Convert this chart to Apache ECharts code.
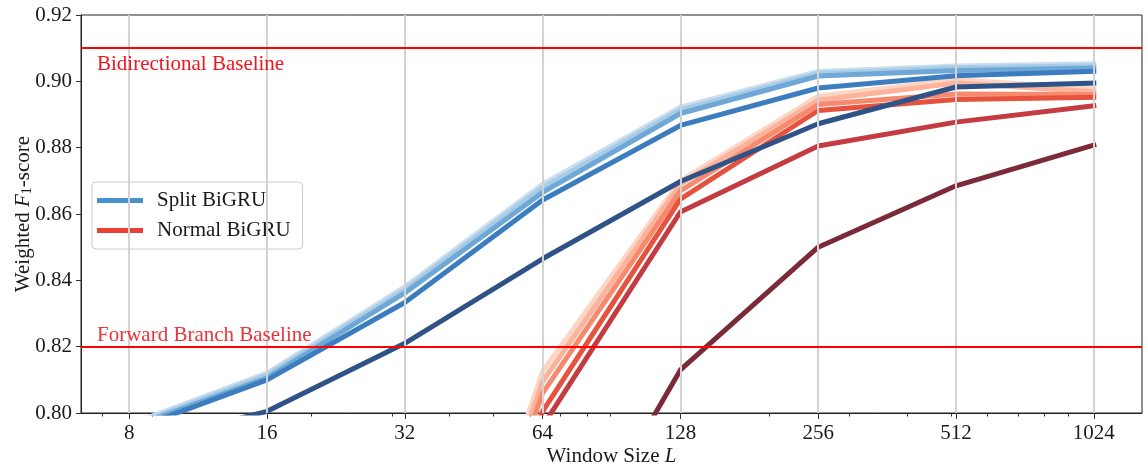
<!DOCTYPE html>
<html><head><meta charset="utf-8">
<script src="https://cdn.jsdelivr.net/npm/echarts@6/dist/echarts.min.js"></script>
<style>html,body{margin:0;padding:0;background:#fff}#c{width:1148px;height:468px}</style>
</head><body><div id="c"></div>
<script>
// ---- data ----
const windowSizes = [8, 16, 32, 64, 128, 256, 512, 1024];
const minorTickSizes = [7, 9, 20, 30, 40, 50, 60, 70, 80, 90, 200, 300, 400, 500, 600, 700, 800, 900];
const yTicks = [0.80, 0.82, 0.84, 0.86, 0.88, 0.90, 0.92];

// Split BiGRU variants (light -> dark)
const split1 = [0.7965, 0.8120, 0.8380, 0.8690, 0.8922, 0.9030, 0.9046, 0.9053];
const split2 = [0.7960, 0.8114, 0.8372, 0.8680, 0.8914, 0.9024, 0.9041, 0.9047];
const split3 = [0.7955, 0.8106, 0.8362, 0.8665, 0.8903, 0.9016, 0.9033, 0.9040];
const split4 = [0.7947, 0.8100, 0.8333, 0.8642, 0.8867, 0.8980, 0.9017, 0.9030];
const split5 = [0.7900, 0.8005, 0.8210, 0.8465, 0.8698, 0.8872, 0.8983, 0.8995];

// Normal BiGRU variants (light -> dark)
const normal1 = [null, null, 0.690, 0.8125, 0.8700, 0.8955, 0.9005, 0.8978];
const normal2 = [null, null, 0.688, 0.8095, 0.8690, 0.8943, 0.8995, 0.8968];
const normal3 = [null, null, 0.686, 0.8060, 0.8670, 0.8930, 0.8962, 0.8960];
const normal4 = [null, null, 0.684, 0.8005, 0.8645, 0.8912, 0.8945, 0.8952];
const normal5 = [null, null, 0.680, 0.7960, 0.8606, 0.8805, 0.8877, 0.8926];
const normal6 = [null, null, 0.660, 0.7410, 0.8130, 0.8500, 0.8685, 0.8808];

const baselineValues = [0.91, 0.82];
const baselineLabels = ['Bidirectional Baseline', 'Forward Branch Baseline'];
const legendNames = ['Split BiGRU', 'Normal BiGRU'];

// ---- styling ----
const FONT = 'Liberation Serif';
const FS = 21;
const TXT = '#1a1a1a';
const splitColors = ['#cadef0', '#a8cbe6', '#6fa8d6', '#3b7dbe', '#2f5387'];
const normalColors = ['#fdd5c4', '#fbb49b', '#f6896e', '#e5533f', '#c43c41', '#7b2a39'];

const lx = v => Math.log2(v);
const xMin = lx(windowSizes[0]) - 0.35;
const xMax = lx(windowSizes[windowSizes.length - 1]) + 0.35;

function lineSeries(name, values, color, z) {
  const data = [];
  windowSizes.forEach((w, i) => { if (values[i] != null) data.push([lx(w), values[i]]); });
  return {
    type: 'line', name: name, data: data, symbol: 'none', clip: true, z: z,
    silent: true, animation: false, emphasis: { disabled: true },
    lineStyle: { color: color, width: 5, join: 'round', cap: 'square' },
    itemStyle: { color: color }
  };
}

const series = [];
// vertical grid lines
series.push({
  type: 'line', name: '_grid', data: [], z: 1, silent: true, animation: false,
  markLine: {
    silent: true, animation: false, symbol: ['none', 'none'],
    label: { show: false },
    lineStyle: { color: '#d3d3d3', width: 2, type: 'solid' },
    emphasis: { disabled: true },
    data: windowSizes.map(w => ({ xAxis: lx(w) }))
  }
});
const normals = [normal1, normal2, normal3, normal4, normal5, normal6];
normals.forEach((v, i) => series.push(lineSeries('Normal ' + (i + 1), v, normalColors[i], 2)));
const splits = [split1, split2, split3, split4, split5];
splits.forEach((v, i) => series.push(lineSeries('Split ' + (i + 1), v, splitColors[i], 3)));
// legend proxies
series.push({ type: 'line', name: legendNames[0], data: [], symbol: 'none', lineStyle: { color: '#4a91c9', width: 5 }, itemStyle: { color: '#4a91c9' } });
series.push({ type: 'line', name: legendNames[1], data: [], symbol: 'none', lineStyle: { color: '#ee4032', width: 5 }, itemStyle: { color: '#ee4032' } });
// baselines
series.push({
  type: 'line', name: '_base', data: [], z: 5, silent: true, animation: false,
  markLine: {
    silent: true, animation: false, symbol: ['none', 'none'],
    lineStyle: { color: '#ff0000', width: 2, type: 'solid' },
    emphasis: { disabled: true },
    data: baselineValues.map((v, i) => ({
      yAxis: v,
      label: {
        show: true, formatter: baselineLabels[i],
        position: i === 0 ? 'insideStartBottom' : 'insideStartTop',
        distance: i === 0 ? [16, 6] : [16, 1],
        color: i === 0 ? '#f0141e' : '#e8343a',
        fontFamily: FONT, fontSize: FS
      }
    }))
  }
});

const chart = echarts.init(document.getElementById('c'), null, { renderer: 'canvas' });
chart.setOption({
  animation: false,
  backgroundColor: '#ffffff',
  grid: { left: 81, right: 6, top: 15, bottom: 55, outerBoundsMode: 'none', containLabel: false,
    show: true, borderColor: '#222', borderWidth: 1, backgroundColor: 'transparent' },
  legend: {
    data: legendNames, left: 92, top: 182, orient: 'vertical',
    icon: 'rect', itemWidth: 46, itemHeight: 5, itemGap: 9,
    padding: [8, 12, 8, 5],
    backgroundColor: 'rgba(255,255,255,0.8)', borderColor: '#cccccc', borderWidth: 1, borderRadius: 4,
    selectedMode: false,
    textStyle: { fontFamily: FONT, fontSize: FS, color: TXT, padding: [0, 0, 0, 9] }
  },
  xAxis: [{
    type: 'value', min: xMin, max: xMax, position: 'bottom',
    name: '{r|Window Size }{i|L}', nameLocation: 'middle', nameGap: 33, nameMoveOverlap: false,
    nameTextStyle: { fontFamily: FONT, fontSize: FS, color: TXT,
      rich: { r: { fontFamily: FONT, fontSize: FS, color: TXT }, i: { fontFamily: FONT, fontSize: FS, fontStyle: 'italic', color: TXT } } },
    axisLine: { show: true, lineStyle: { color: '#222', width: 1 } },
    axisTick: { show: true, inside: false, length: 6, lineStyle: { color: '#333' }, customValues: windowSizes.map(lx) },
    axisLabel: { show: true, margin: 10, fontFamily: FONT, fontSize: FS, color: TXT,
      customValues: windowSizes.map(lx), formatter: v => String(Math.round(Math.pow(2, v))) },
    splitLine: { show: false }
  }, {
    type: 'value', min: xMin, max: xMax, position: 'bottom', gridIndex: 0,
    axisLine: { show: false },
    axisTick: { show: true, inside: false, length: 3.5, lineStyle: { color: '#333' }, customValues: minorTickSizes.map(lx) },
    axisLabel: { show: false },
    splitLine: { show: false }
  }],
  yAxis: {
    type: 'value', min: yTicks[0], max: yTicks[yTicks.length - 1], interval: 0.02,
    name: '{r|Weighted }{i|F}{s|1}{r|-score}', nameLocation: 'middle', nameGap: 47, nameMoveOverlap: false,
    nameTextStyle: { fontFamily: FONT, fontSize: FS, color: TXT,
      rich: {
        r: { fontFamily: FONT, fontSize: FS, color: TXT },
        i: { fontFamily: FONT, fontSize: FS, fontStyle: 'italic', color: TXT },
        s: { fontFamily: FONT, fontSize: 14, color: TXT, padding: [8, 0, 0, 0] }
      } },
    axisLine: { show: true, lineStyle: { color: '#222', width: 1 } },
    axisTick: { show: true, inside: false, length: 5, lineStyle: { color: '#333' } },
    axisLabel: { margin: 9, fontFamily: FONT, fontSize: FS, color: TXT, formatter: v => v.toFixed(2) },
    splitLine: { show: false }
  },
  series: series
});
</script></body></html>
